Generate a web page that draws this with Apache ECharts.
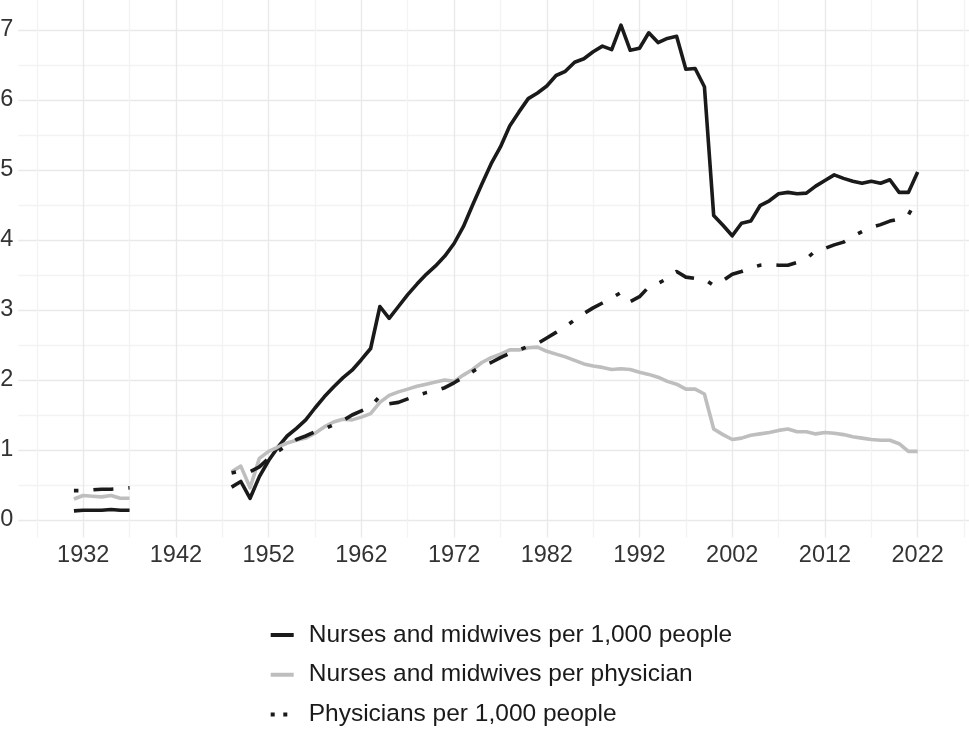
<!DOCTYPE html>
<html><head><meta charset="utf-8">
<script src="https://cdn.jsdelivr.net/npm/echarts@6/dist/echarts.min.js"></script>
<style>html,body{margin:0;padding:0;background:#fff}#c{width:969px;height:731px}</style>
</head><body><div id="c"></div>
<script>
const yearsEarly = [1931,1932,1933,1934,1935,1936,1937];
const yearsLate = [
  1948,1949,1950,1951,1952,1953,1954,1955,1956,1957,
  1958,1959,1960,1961,1962,1963,1964,1965,1966,1967,
  1968,1969,1970,1971,1972,1973,1974,1975,1976,1977,
  1978,1979,1980,1981,1982,1983,1984,1985,1986,1987,
  1988,1989,1990,1991,1992,1993,1994,1995,1996,1997,
  1998,1999,2000,2001,2002,2003,2004,2005,2006,2007,
  2008,2009,2010,2011,2012,2013,2014,2015,2016,2017,
  2018,2019,2020,2021,2022];
const gapYear = 1942;

const nursesPer1000Early = [0.13,0.14,0.14,0.14,0.15,0.14,0.14];
const nursesPer1000Late = [
  0.47,0.55,0.31,0.62,0.85,1.04,1.20,1.31,1.43,1.60,
  1.76,1.90,2.03,2.14,2.29,2.45,3.05,2.88,3.05,3.22,
  3.37,3.51,3.63,3.77,3.95,4.19,4.50,4.80,5.09,5.33,
  5.63,5.83,6.02,6.10,6.20,6.35,6.41,6.54,6.59,6.69,
  6.77,6.72,7.07,6.71,6.74,6.96,6.82,6.88,6.91,6.44,
  6.45,6.19,4.35,4.21,4.06,4.24,4.27,4.49,4.56,4.66,
  4.68,4.66,4.67,4.77,4.85,4.93,4.88,4.84,4.81,4.84,
  4.81,4.86,4.68,4.68,4.97];

const nursesPerPhysicianEarly = [0.30,0.35,0.34,0.33,0.35,0.31,0.31];
const nursesPerPhysicianLate = [
  0.69,0.77,0.46,0.88,0.98,1.04,1.10,1.14,1.17,1.24,
  1.33,1.40,1.44,1.43,1.47,1.52,1.68,1.78,1.83,1.87,
  1.91,1.94,1.97,2.00,1.98,2.07,2.15,2.25,2.32,2.37,
  2.43,2.43,2.46,2.47,2.41,2.37,2.33,2.28,2.23,2.20,
  2.18,2.15,2.16,2.15,2.11,2.08,2.04,1.98,1.94,1.87,
  1.87,1.80,1.30,1.22,1.15,1.17,1.21,1.23,1.25,1.28,
  1.30,1.26,1.26,1.23,1.25,1.24,1.22,1.19,1.17,1.15,
  1.14,1.14,1.09,0.98,0.98];

const physiciansPer1000Early = [0.42,0.42,0.43,0.44,0.44,0.45,0.46];
const physiciansPer1000Late = [
  0.67,0.70,0.69,0.76,0.88,0.98,1.07,1.15,1.20,1.26,
  1.30,1.36,1.42,1.50,1.56,1.62,1.77,1.66,1.68,1.73,
  1.78,1.82,1.85,1.89,1.96,2.04,2.12,2.20,2.25,2.32,
  2.38,2.43,2.48,2.52,2.60,2.68,2.76,2.86,2.95,3.03,
  3.10,3.17,3.25,3.12,3.19,3.33,3.38,3.45,3.55,3.47,
  3.45,3.44,3.35,3.42,3.51,3.55,3.60,3.64,3.65,3.64,
  3.64,3.68,3.73,3.85,3.88,3.93,3.97,4.05,4.12,4.18,
  4.22,4.27,4.30,4.36,4.59];

const seriesNames = [
  'Nurses and midwives per 1,000 people',
  'Nurses and midwives per physician',
  'Physicians per 1,000 people'
];
const xTickLabels = [1932,1942,1952,1962,1972,1982,1992,2002,2012,2022];
const yTickLabels = [0,1,2,3,4,5,6,7];

function build(early, late) {
  const d = yearsEarly.map((y, i) => [y, early[i]]);
  d.push([gapYear, null]);
  yearsLate.forEach((y, i) => d.push([y, late[i]]));
  return d;
}

const FONT = '"Liberation Sans", Arial, Helvetica, sans-serif';
const MAJOR = '#e9e9e9', MINOR = '#f3f3f3', NONE = 'rgba(0,0,0,0)';
const BLACK = '#1a1a1a', GREY = '#bebebe';

const chart = echarts.init(document.getElementById('c'), null, {renderer: 'canvas'});
chart.setOption({
  animation: false,
  backgroundColor: '#ffffff',
  grid: {left: 18.3, right: -4.3, top: -5, bottom: 193.5, containLabel: false, outerBoundsMode: 'none'},
  xAxis: {
    type: 'value', min: 1925, max: 2028, interval: 1,
    axisLine: {show: false}, axisTick: {show: false},
    axisLabel: {
      margin: 6, fontSize: 23.5, color: '#333333', fontFamily: FONT,
      formatter: v => xTickLabels.indexOf(Math.round(v)) >= 0 && Math.abs(v - Math.round(v)) < 1e-6 ? String(Math.round(v)) : ''
    },
    splitLine: {show: true, showMaxLine: false, lineStyle: {width: 1.4,
      color: [NONE, NONE, MINOR, NONE, NONE, NONE, NONE, MAJOR, NONE, NONE]}}
  },
  yAxis: {
    type: 'value', min: -0.25, max: 7.5, interval: 0.25,
    axisLine: {show: false}, axisTick: {show: false},
    axisLabel: {
      margin: 5, fontSize: 23.5, color: '#333333', fontFamily: FONT,
      formatter: v => {
        const r = Math.round(v);
        return Math.abs(v - r) < 1e-6 && yTickLabels.indexOf(r) >= 0 ? String(r) : '';
      }
    },
    splitLine: {show: true, showMaxLine: false, lineStyle: {width: 1.4,
      color: [NONE, MAJOR, NONE, MINOR]}}
  },
  legend: {
    orient: 'vertical', left: 270.7, top: 622, padding: 0, selectedMode: false,
    itemWidth: 33, itemHeight: 4, itemGap: 13.7,
    textStyle: {fontSize: 24.5, color: BLACK, fontFamily: FONT, lineHeight: 26},
    data: [
      {name: seriesNames[0], icon: 'path://M0,0H23V4H0Z M33,0L33,4', itemStyle: {color: BLACK}},
      {name: seriesNames[1], icon: 'path://M0,0H23V4H0Z M33,0L33,4', itemStyle: {color: GREY}},
      {name: seriesNames[2], icon: 'path://M0,0H4V4H0Z M12.6,0H16.6V4H12.6Z M33,0L33,4', itemStyle: {color: BLACK}}
    ]
  },
  series: [
    {name: seriesNames[0], type: 'line', data: build(nursesPer1000Early, nursesPer1000Late),
     showSymbol: false, symbol: 'none', connectNulls: false, color: BLACK,
     lineStyle: {color: BLACK, width: 3.6, cap: 'butt', join: 'round'}},
    {name: seriesNames[1], type: 'line', data: build(nursesPerPhysicianEarly, nursesPerPhysicianLate),
     showSymbol: false, symbol: 'none', connectNulls: false, color: GREY,
     lineStyle: {color: GREY, width: 3.6, cap: 'butt', join: 'round'}},
    {name: seriesNames[2], type: 'line', data: build(physiciansPer1000Early, physiciansPer1000Late),
     showSymbol: false, symbol: 'none', connectNulls: false, color: BLACK,
     lineStyle: {color: BLACK, width: 3.6, cap: 'butt', join: 'round', type: [4.5, 15, 20, 15]}}
  ]
});
</script>
</body></html>
